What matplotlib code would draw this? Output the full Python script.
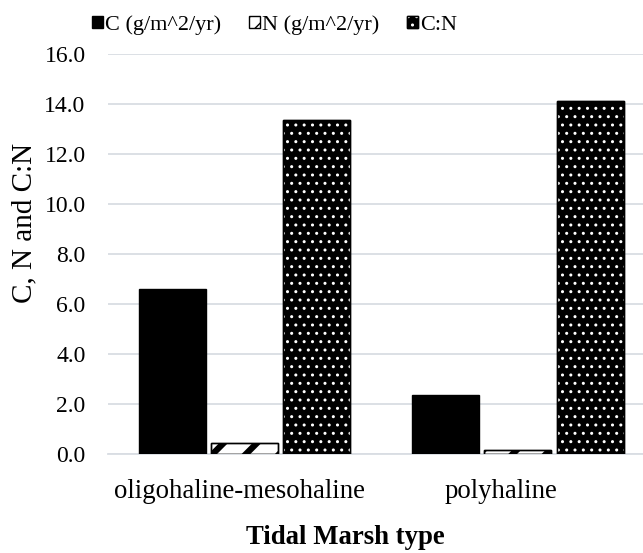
import numpy as np
import matplotlib
matplotlib.use("Agg")
import matplotlib.pyplot as plt
from matplotlib.patches import Patch
from matplotlib.legend_handler import HandlerTuple

plt.rcParams['font.family'] = ['Liberation Serif', 'DejaVu Serif']

marsh_types = ['oligohaline-mesohaline', 'polyhaline']
carbon = [6.6, 2.37]        # C (g/m^2/yr)
nitrogen = [0.44, 0.17]     # N (g/m^2/yr)
cn_ratio = [13.35, 14.1]    # C:N
series_names = ['C (g/m^2/yr)', 'N (g/m^2/yr)', 'C:N']
yticks = [0.0, 2.0, 4.0, 6.0, 8.0, 10.0, 12.0, 14.0, 16.0]

grid_col = '#d9dde3'
width = 0.245
step = 0.265

fig = plt.figure(figsize=(6.43, 5.53), dpi=100)
ax = fig.add_axes([0.1677, 0.1785, 0.8503, 0.7244])

x = np.arange(len(marsh_types))


def hatched_bar(pos, vals, face, hatch, hatch_col, hatch_lw):
    plt.rcParams['hatch.linewidth'] = hatch_lw
    bars = ax.bar(pos, vals, width, color=face, edgecolor='black', linewidth=1.0, zorder=3)
    if hatch:
        over = ax.bar(pos, vals, width, color='none', edgecolor=hatch_col,
                      hatch=hatch, linewidth=0, zorder=4)
        for b in over:
            if hasattr(b, 'set_hatch_linewidth'):
                b.set_hatch_linewidth(hatch_lw)
        ax.bar(pos, vals, width, color='none', edgecolor='black', linewidth=1.0, zorder=5)
    return bars


hatched_bar(x - step, carbon, 'black', None, None, 1.0)
hatched_bar(x, nitrogen, 'white', '/', 'black', 4.5)
hatched_bar(x + step, cn_ratio, 'black', '..', 'white', 1.0)

ax.set_ylim(0, 16)
ax.set_xlim(-0.5, 1.5)
ax.set_yticks(yticks)
ax.set_yticklabels(['%.1f' % v for v in yticks])
ax.set_xticks([x[0] - 0.02, x[1] - 0.062])
ax.set_xticklabels(marsh_types)
ax.tick_params(axis='both', length=0, colors='black')
ax.tick_params(axis='y', pad=16, labelsize=17)
ax.tick_params(axis='x', pad=18, labelsize=19.3)
ax.yaxis.grid(True, color=grid_col, linewidth=1.3, zorder=0)
ax.set_axisbelow(True)
for s in ['top', 'right', 'left']:
    ax.spines[s].set_visible(False)
ax.spines['bottom'].set_color(grid_col)
ax.spines['bottom'].set_linewidth(1.3)

ax.set_ylabel('C, N and C:N', fontsize=21)
ax.yaxis.set_label_coords(-0.1295, 0.577)
fig.text(345 / 643, 1 - 537 / 553, 'Tidal Marsh type', fontsize=19.3, fontweight='bold',
         ha='center', va='center')

# legend keys: plain, striped, and black with white dots
plt.rcParams['hatch.linewidth'] = 1.5
key_c = Patch(facecolor='black', edgecolor='black')
key_n = Patch(facecolor='white', edgecolor='black', hatch='//')
plt.rcParams['hatch.linewidth'] = 1.0
key_cn = (Patch(facecolor='black', edgecolor='black'),
          Patch(facecolor='none', edgecolor='white', hatch='..', linewidth=0),
          Patch(facecolor='none', edgecolor='black'))
fig.legend(handles=[key_c, key_n, key_cn], labels=series_names, loc='center',
           bbox_to_anchor=(274.5 / 643, 1 - 25 / 553),
           handler_map={tuple: HandlerTuple(ndivide=1, pad=0)},
           ncol=3, frameon=False, fontsize=16, handlelength=0.5, handleheight=0.5,
           handletextpad=0.1, columnspacing=1.25)

fig.savefig('out.png', dpi=100)
